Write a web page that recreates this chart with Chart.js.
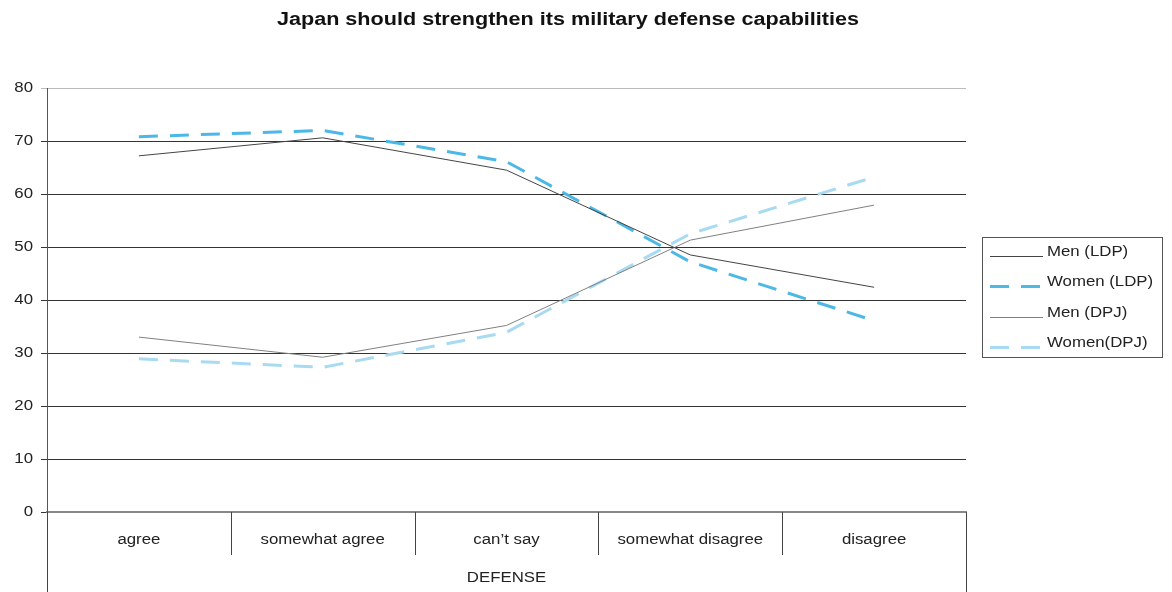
<!DOCTYPE html>
<html>
<head>
<meta charset="utf-8">
<script src="https://cdn.jsdelivr.net/npm/chart.js@4.4.1/dist/chart.umd.min.js"></script>
<style>
  html, body { margin: 0; padding: 0; background: #fff; }
  #wrap { width: 1172px; height: 592px; }
</style>
</head>
<body>
<div id="wrap"><canvas id="myChart" width="1172" height="592"></canvas></div>
<script>
  const categories = ['agree', 'somewhat agree', 'can\u2019t say', 'somewhat disagree', 'disagree']
  const menLDP = [67.2, 70.6, 64.5, 48.5, 42.4]
  const womenLDP = [70.8, 72.0, 66.1, 47.2, 36.1]
  const menDPJ = [33.0, 29.2, 35.2, 51.3, 57.9]
  const womenDPJ = [28.9, 27.3, 33.9, 52.5, 63.2]
  const yTicks = [0, 10, 20, 30, 40, 50, 60, 70, 80]

  const FONT = '"Liberation Sans", Arial, sans-serif'
  const STRETCH = 1.2 // the source text is drawn a little wide

  // text stretched horizontally around its anchor
  function wideText (c, str, x, y, align) {
    c.save()
    c.translate(x, y)
    c.scale(STRETCH, 1)
    c.textAlign = align
    c.fillText(str, 0, 0)
    c.restore()
  }

  // title, tick labels, category separators, axis title and the boxed legend
  const extras = {
    id: 'extras',
    afterDraw (chart) {
      const c = chart.ctx
      const area = chart.chartArea
      const x = chart.scales.x
      const y = chart.scales.y
      const n = categories.length
      const w = (x.right - x.left) / n
      c.save()
      c.textBaseline = 'middle'
      c.fillStyle = '#111'
      c.font = 'bold 18px ' + FONT
      wideText(c, 'Japan should strengthen its military defense capabilities', 568, 20, 'center')

      c.fillStyle = '#222'
      c.font = '14px ' + FONT
      yTicks.forEach(v => wideText(c, String(v), 33, y.getPixelForValue(v), 'right'))
      categories.forEach((lab, i) => wideText(c, lab, x.getPixelForValue(i), 540, 'center'))
      wideText(c, 'DEFENSE', (x.left + x.right) / 2, 578, 'center')

      c.strokeStyle = '#444'
      c.lineWidth = 1
      for (let i = 0; i <= n; i++) {
        const px = Math.round(x.left + i * w) + 0.5
        const bottom = (i === 0 || i === n) ? 592 : area.bottom + 43
        c.beginPath()
        c.moveTo(px, area.bottom)
        c.lineTo(px, bottom)
        c.stroke()
      }

      // legend
      c.strokeStyle = '#555'
      c.strokeRect(982.5, 237.5, 180, 120)
      const rows = [252, 282, 313, 343]
      chart.data.datasets.forEach((ds, i) => {
        const ly = rows[i]
        c.beginPath()
        c.strokeStyle = ds.borderColor
        c.lineWidth = ds.borderWidth
        c.setLineDash(ds.borderDash || [])
        c.moveTo(990, ly + 4.5)
        c.lineTo(1043, ly + 4.5)
        c.stroke()
        c.setLineDash([])
        c.fillStyle = '#222'
        wideText(c, ds.label, 1047, ly, 'left')
      })
      c.restore()
    }
  }

  const ctx = document.getElementById('myChart')
  // eslint-disable-next-line no-unused-vars
  const myChart = new Chart(ctx, {
    type: 'line',
    data: {
      labels: categories,
      datasets: [{
        label: 'Men (LDP)',
        data: menLDP,
        borderColor: '#444444',
        borderWidth: 1,
        pointRadius: 0,
        tension: 0
      }, {
        label: 'Women (LDP)',
        data: womenLDP,
        borderColor: '#4cb8e6',
        borderWidth: 3,
        borderDash: [19, 12],
        pointRadius: 0,
        tension: 0
      }, {
        label: 'Men (DPJ)',
        data: menDPJ,
        borderColor: '#808080',
        borderWidth: 1,
        pointRadius: 0,
        tension: 0
      }, {
        label: 'Women(DPJ)',
        data: womenDPJ,
        borderColor: '#a8daf2',
        borderWidth: 3,
        borderDash: [19, 12],
        pointRadius: 0,
        tension: 0
      }]
    },
    options: {
      responsive: false,
      animation: false,
      layout: { padding: { top: 88, right: 206, left: 0, bottom: 0 } },
      plugins: {
        legend: { display: false },
        tooltip: { enabled: false }
      },
      scales: {
        x: {
          offset: true,
          grid: { display: false },
          border: { color: '#888', width: 2 },
          ticks: { display: false },
          afterFit (s) { s.height = 80 }
        },
        y: {
          min: 0,
          max: 80,
          afterBuildTicks (s) { s.ticks = yTicks.map(v => ({ value: v })) },
          grid: {
            color: (c) => c.tick && c.tick.value === 80 ? '#bbb' : '#333',
            tickLength: 6,
            lineWidth: 1
          },
          border: { color: '#555', width: 1 },
          ticks: { display: false },
          afterFit (s) { s.width = 47 }
        }
      }
    },
    plugins: [extras]
  })
</script>
</body>
</html>
